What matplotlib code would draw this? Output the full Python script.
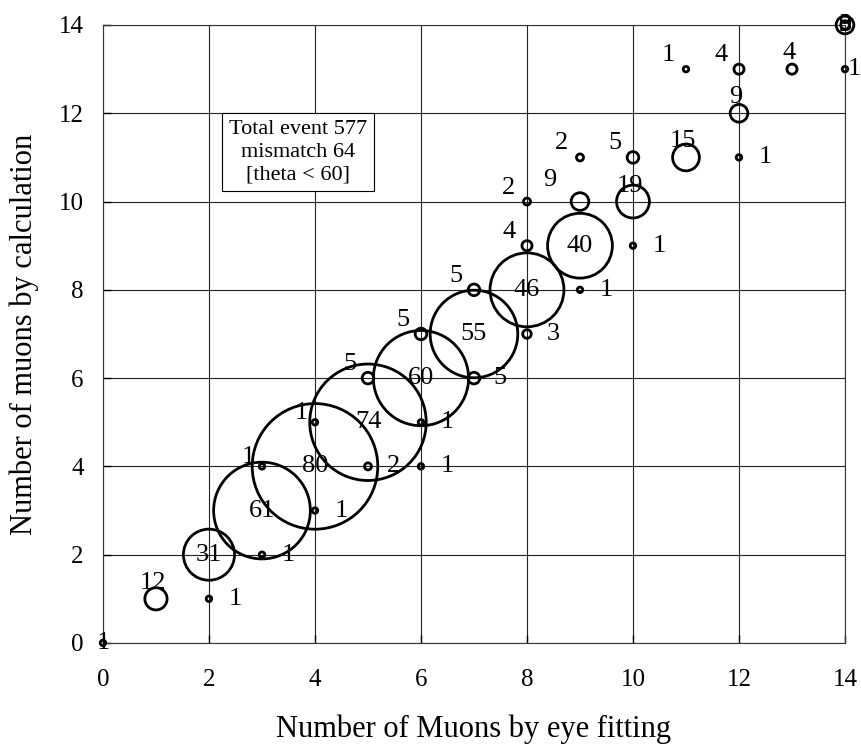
import matplotlib
matplotlib.use("Agg")
import matplotlib.pyplot as plt
import numpy as np

plt.rcParams["font.family"] = ["Liberation Serif", "DejaVu Serif"]

# eye fitting (x), calculation (y), number of events, label placement
eye_fit = [0, 1, 2, 2, 3, 3, 3, 4, 4, 4, 5, 5, 5, 6, 6, 6, 6, 7, 7, 7,
           8, 8, 8, 8, 9, 9, 9, 9, 10, 10, 10, 11, 11, 12, 12, 12, 13, 14, 14, 14]
calc = [0, 1, 1, 2, 2, 3, 4, 3, 4, 5, 4, 5, 6, 4, 5, 6, 7, 6, 7, 8,
        7, 8, 9, 10, 8, 9, 10, 11, 9, 10, 11, 11, 13, 13, 12, 11, 13, 13, 14, 14]
counts = [1, 12, 1, 31, 1, 61, 1, 1, 80, 1, 2, 74, 5, 1, 1, 60, 5, 5, 55, 5,
          3, 46, 4, 2, 1, 40, 9, 2, 1, 19, 5, 15, 1, 4, 9, 1, 4, 1, 3, 9]
label_pos = ["c", "u", "r", "c", "r", "c", "l", "r", "c", "l", "r", "c", "ul", "r", "r", "c", "ul", "r", "c", "ul",
             "r", "c", "ul", "ul", "r", "c", "ulw", "ul", "r", "u", "ul", "u", "ul", "ul", "u", "r", "u", "rr", "c", "c"]

# label offsets in pixels
OFFSETS = {"c": (0, 0), "r": (26, 0), "rr": (9, 0), "u": (-3, 16),
           "ul": (-18, 14), "ulw": (-30, 22), "l": (-14, 9)}

fig = plt.figure(figsize=(8.61, 7.44), dpi=100)
ax = fig.add_axes([0.1196, 0.1358, 0.8618, 0.8306])

counts_arr = np.array(counts, dtype=float)
diam_pt = (1.52 * counts_arr + 4) * 0.72
ax.scatter(eye_fit, calc, s=diam_pt ** 2, facecolors="none",
           edgecolors="black", linewidths=2.0, zorder=3, clip_on=False)

for x, y, n, pos in zip(eye_fit, calc, counts, label_pos):
    dx, dy = OFFSETS[pos]
    ax.annotate(str(n), (x, y), xytext=(dx * 0.72, dy * 0.72),
                textcoords="offset points", ha="center", va="center",
                fontsize=19, zorder=4, annotation_clip=False)

ax.text(3.68, 11.12, "Total event 577\nmismatch 64\n[theta < 60]",
        ha="center", va="center", fontsize=16, linespacing=1.25,
        bbox=dict(boxstyle="square,pad=0.3", facecolor="white",
                  edgecolor="black", linewidth=0.8), zorder=5)

ax.set_xlim(0, 14)
ax.set_ylim(0, 14)
ax.set_xticks(np.arange(0, 15, 2))
ax.set_yticks(np.arange(0, 15, 2))
ax.grid(True, color="#222222", linewidth=0.8)
ax.set_axisbelow(True)
ax.tick_params(direction="in", length=6, width=1, labelsize=18)
ax.tick_params(axis="x", pad=19)
ax.tick_params(axis="y", pad=14)
for side in ax.spines.values():
    side.set_linewidth(0.8)
    side.set_color("#333333")

ax.set_xlabel("Number of Muons by eye fitting", fontsize=22, va="baseline")
ax.set_ylabel("Number of muons by calculation", fontsize=22, va="center")
ax.xaxis.set_label_coords(0.5, -0.152)
ax.yaxis.set_label_coords(-0.106, 0.5)

fig.savefig("out.png", dpi=100)
